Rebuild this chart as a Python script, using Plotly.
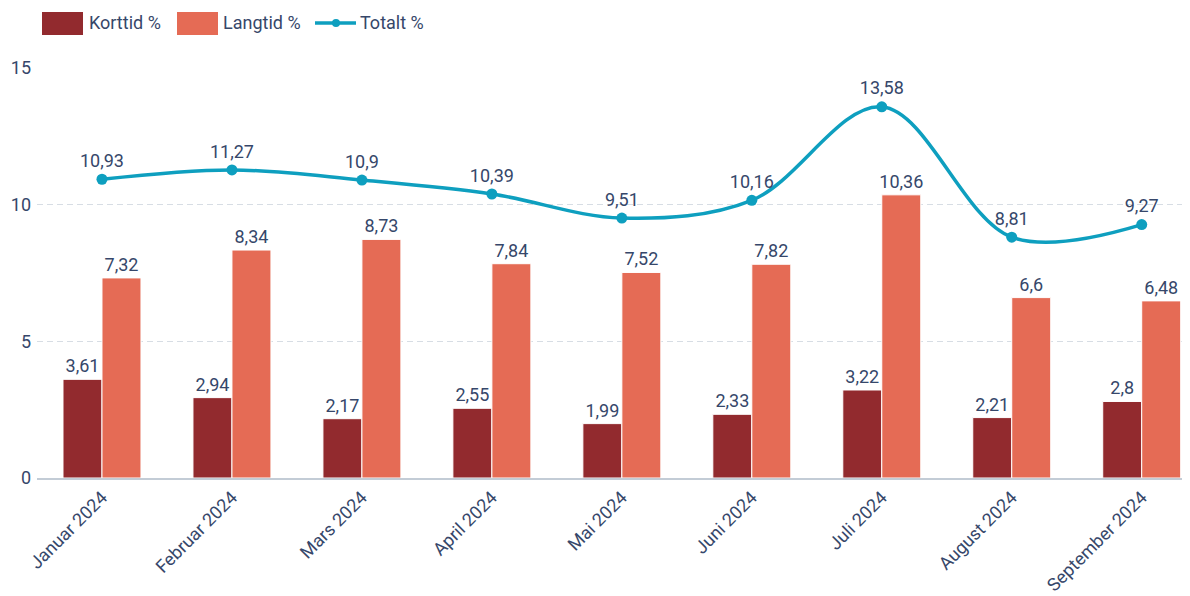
import plotly.graph_objects as go

# Monthly sick-leave figures, 2024
months = ["Januar 2024", "Februar 2024", "Mars 2024", "April 2024", "Mai 2024",
          "Juni 2024", "Juli 2024", "August 2024", "September 2024"]
korttid = [3.61, 2.94, 2.17, 2.55, 1.99, 2.33, 3.22, 2.21, 2.8]
langtid = [7.32, 8.34, 8.73, 7.84, 7.52, 7.82, 10.36, 6.6, 6.48]
totalt = [10.93, 11.27, 10.9, 10.39, 9.51, 10.16, 13.58, 8.81, 9.27]
y_ticks = [0, 5, 10, 15]

TEXT = "#36476a"
FONT = "Roboto, Arial, sans-serif"
C_KORT = "#922a2e"
C_LANG = "#e56b55"
C_TOT = "#0e9fbf"
LABEL_SIZE = 18

# plot area in pixels (used to place the hand-built legend above it)
W, H = 1190, 596
ML, MR, MT, MB = 37, 8, 68, 118
PW, PH = W - ML - MR, H - MT - MB


def px_x(p):
    return (p - ML) / PW


def px_y(p):
    return (H - MB - p) / PH


def fmt(v):
    return f"{v:g}".replace(".", ",")


fig = go.Figure()
fig.add_trace(go.Bar(
    x=months, y=korttid, name="Korttid %",
    marker=dict(color=C_KORT, line=dict(color="white", width=1)),
    text=[fmt(v) for v in korttid], textposition="outside",
    textangle=0, constraintext="none",
    textfont=dict(size=LABEL_SIZE, color=TEXT), cliponaxis=False,
))
fig.add_trace(go.Bar(
    x=months, y=langtid, name="Langtid %",
    marker=dict(color=C_LANG, line=dict(color="white", width=1)),
    text=[fmt(v) for v in langtid], textposition="outside",
    textangle=0, constraintext="none",
    textfont=dict(size=LABEL_SIZE, color=TEXT), cliponaxis=False,
))
fig.add_trace(go.Scatter(
    x=months, y=totalt, name="Totalt %",
    mode="lines+markers+text",
    line=dict(color=C_TOT, width=3.5, shape="spline", smoothing=1),
    marker=dict(size=11, color=C_TOT),
    text=[fmt(v) for v in totalt], textposition="top center",
    textfont=dict(size=LABEL_SIZE, color=TEXT), cliponaxis=False,
))

# legend with wide swatches, drawn as shapes + annotations
shapes = [
    dict(type="rect", xref="paper", yref="paper", x0=px_x(42), x1=px_x(83),
         y0=px_y(35), y1=px_y(12), fillcolor=C_KORT, line=dict(width=0)),
    dict(type="rect", xref="paper", yref="paper", x0=px_x(177), x1=px_x(218),
         y0=px_y(35), y1=px_y(12), fillcolor=C_LANG, line=dict(width=0)),
    dict(type="line", xref="paper", yref="paper", x0=px_x(315), x1=px_x(356),
         y0=px_y(23), y1=px_y(23), line=dict(color=C_TOT, width=3.5)),
    dict(type="circle", xref="paper", yref="paper", x0=px_x(332), x1=px_x(340),
         y0=px_y(27), y1=px_y(19), fillcolor=C_TOT, line=dict(width=0)),
]
legend_labels = [("Korttid %", 87), ("Langtid %", 221), ("Totalt %", 358)]
annotations = [
    dict(text=t, xref="paper", yref="paper", x=px_x(x0), y=px_y(23),
         xanchor="left", yanchor="middle", showarrow=False,
         font=dict(size=18, color=TEXT, family=FONT))
    for t, x0 in legend_labels
]

fig.update_layout(
    width=W, height=H,
    margin=dict(l=ML, r=MR, t=MT, b=MB, autoexpand=False),
    paper_bgcolor="white", plot_bgcolor="white",
    font=dict(family=FONT, color=TEXT, size=16),
    barmode="group", bargap=0.4, bargroupgap=0,
    showlegend=False,
    shapes=shapes, annotations=annotations,
    xaxis=dict(
        range=[-0.5, 8.31], tickangle=-45, showgrid=False, automargin=False,
        showline=True, linecolor="#c3ccd6", linewidth=2,
        ticks="", tickfont=dict(size=18, color=TEXT),
    ),
    yaxis=dict(
        range=[0, 15], tickvals=y_ticks, ticktext=[str(t) for t in y_ticks],
        showgrid=True, gridcolor="#d7dde4", griddash="6px,4px", gridwidth=1,
        zeroline=False, showline=False, ticks="", automargin=False,
        tickfont=dict(size=18, color=TEXT), ticklabelstandoff=5,
    ),
)

fig.write_html("out.html")
